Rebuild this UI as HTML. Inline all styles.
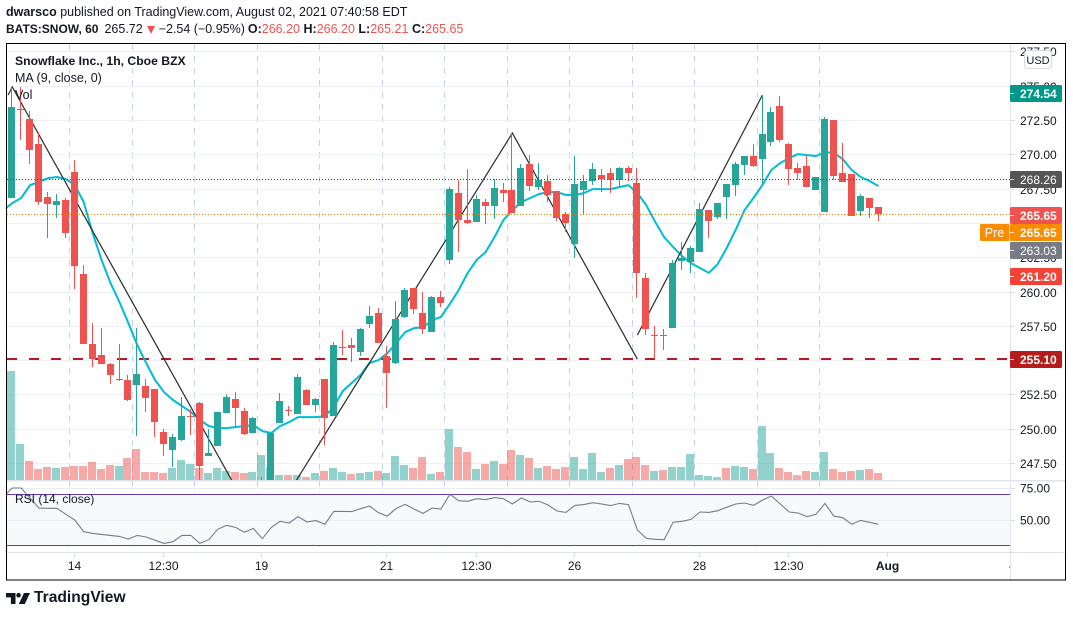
<!DOCTYPE html>
<html lang="en">
<head>
<meta charset="utf-8">
<title>SNOW 1h chart</title>
<style>
html,body{margin:0;padding:0;background:#fff;width:1073px;height:617px;overflow:hidden}
body{position:relative;font-family:"Liberation Sans",sans-serif;color:#131722}
#hdr1,#hdr2{position:absolute;left:6px;white-space:nowrap;font-size:12.5px;line-height:16px}
#hdr1{top:4px}
#hdr2{top:21px}
#hdr2 .r{color:#ef5350}
#hdr2 .sym{font-size:12px;font-weight:bold}
#hdr2 .last{margin-left:6px}
#hdr2 .tri{display:inline-block;width:0;height:0;border-left:4.5px solid transparent;border-right:4.5px solid transparent;border-top:8px solid #ef5350;margin:0 4px;vertical-align:-1px}
#hdr2 .o{margin-left:3px}
#chart{position:absolute;left:0;top:0}
#brand{position:absolute;left:34px;top:589px;font-size:15.6px;font-weight:bold;line-height:18px;color:#131722}
svg text{font-family:"Liberation Sans",sans-serif}
</style>
</head>
<body>
<div id="hdr1"><b>dwarsco</b> published on TradingView.com, August 02, 2021 07:40:58 EDT</div>
<div id="hdr2"><span class="sym">BATS:SNOW, 60</span><span class="last">265.72</span><span class="tri"></span>−2.54 (−0.95%)<b class="o">O:</b><span class="r">266.20</span> <b>H:</b><span class="r">266.20</span> <b>L:</b><span class="r">265.21</span> <b>C:</b><span class="r">265.65</span></div>
<svg id="chart" width="1073" height="617" viewBox="0 0 1073 617" xmlns="http://www.w3.org/2000/svg">
  <defs>
    <clipPath id="mainClip"><rect x="7" y="44" width="1003" height="436"></rect></clipPath>
    <clipPath id="rsiClip"><rect x="7" y="481" width="1003" height="71"></rect></clipPath>
    <clipPath id="timeClip"><rect x="7" y="552" width="1003" height="28"></rect></clipPath>
  </defs>
  <g id="plot" clip-path="url(#mainClip)"></g>
  <g id="rsi" clip-path="url(#rsiClip)"></g>
  <g id="axis"></g>
  <g id="legend">
    <text x="15" y="65" font-size="12.2" font-weight="bold" fill="#131722">Snowflake Inc., 1h, Cboe BZX</text>
    <text x="15" y="82" font-size="12.5" fill="#131722">MA (9, close, 0)</text>
    <text x="15" y="99" font-size="12.5" fill="#131722">Vol</text>
    <text x="15" y="503" font-size="12" fill="#131722">RSI (14, close)</text>
  </g>
  <rect x="6.5" y="43.5" width="1059" height="536.5" fill="none" stroke="#000" stroke-width="1"></rect>
  <g fill="#131722">
    <path d="M6 593h9.5v11h-4.6v-6.6H6z"></path>
    <circle cx="18.6" cy="595.2" r="2.3"></circle>
    <path d="M24 593h6l-5.2 11h-6z"></path>
  </g>
</svg>
<div id="brand">TradingView</div>
<script>
var opens=[266.85,273.33,272.60,270.78,266.92,266.33,266.70,268.74,261.30,256.20,
255.41,254.75,253.65,253.58,253.22,253.15,252.93,249.79,248.48,249.21,
250.95,251.91,248.04,248.77,251.17,252.20,251.32,249.72,245.92,245.56,
250.45,251.39,251.10,252.85,251.76,253.65,250.95,255.99,256.13,255.62,
257.66,258.47,255.33,254.82,258.18,260.29,258.47,257.08,259.64,262.33,
267.21,265.24,265.10,266.55,266.26,267.43,267.43,266.26,269.32,267.65,
268.08,267.36,265.68,263.49,267.43,268.08,268.52,268.67,268.16,269.03,
267.94,261.01,256.86,256.86,257.37,262.26,262.19,262.91,265.97,265.46,
266.92,267.79,269.25,269.91,269.69,270.93,273.55,270.78,269.03,269.18,
267.43,265.83,272.54,268.67,268.60,265.90,266.85,266.20];
var closes=[273.48,273.26,270.35,266.58,266.41,266.63,264.30,261.89,256.20,255.10,
254.75,253.95,253.58,252.13,254.02,252.27,250.53,248.92,249.43,250.95,
250.88,247.31,248.26,251.24,252.34,251.54,249.65,250.81,245.20,249.72,
252.06,251.32,253.80,251.76,252.20,250.81,256.13,255.91,255.91,257.30,
258.25,256.28,254.09,258.03,260.15,258.76,257.30,259.64,259.20,267.50,
265.24,265.02,266.78,266.26,267.57,267.21,265.75,269.03,267.72,268.16,
267.07,265.39,265.02,267.87,268.08,268.96,268.23,268.16,269.03,268.67,
261.38,257.30,256.78,256.78,262.11,262.48,263.21,266.05,265.17,266.48,
267.87,269.32,269.91,269.18,271.51,273.12,271.07,268.96,268.67,267.65,
268.38,272.61,268.45,268.02,265.53,266.99,266.12,265.65];
var highs=[274.87,274.94,273.19,271.66,267.28,267.14,266.85,269.62,261.96,257.73,
257.37,254.82,256.20,253.95,257.37,253.65,252.93,250.01,249.65,252.34,
251.46,251.98,250.01,251.24,252.56,252.70,251.54,250.88,246.52,249.72,
252.64,251.68,254.02,252.93,252.27,253.65,256.35,257.22,256.64,257.37,
258.97,258.83,256.06,259.34,260.29,260.29,260.00,259.71,260.07,267.65,
268.16,268.96,267.07,266.78,268.23,267.94,271.58,269.32,269.98,269.40,
268.52,267.36,265.83,269.91,268.52,269.40,268.96,269.03,269.11,269.18,
269.03,261.38,257.51,257.30,262.33,263.64,263.35,266.48,265.97,266.48,
267.87,269.47,269.91,270.78,274.35,273.48,274.28,270.85,269.40,269.91,
268.38,272.75,272.54,270.85,268.60,267.14,266.85,266.20];
var lows=[266.85,271.07,269.32,266.33,263.93,265.39,263.93,260.21,256.20,254.52,
254.75,253.29,253.51,252.06,249.51,251.26,249.43,248.04,247.24,249.13,
249.57,246.08,248.04,248.77,251.17,250.08,249.57,249.72,244.85,245.30,
250.45,250.95,251.10,251.76,251.24,248.84,250.95,255.41,254.89,255.33,
257.37,256.28,251.54,254.75,258.10,258.40,256.93,257.08,258.91,262.04,
262.91,264.95,265.10,264.95,265.31,266.55,265.75,266.26,267.36,267.43,
266.55,265.17,264.36,262.47,265.60,267.79,267.28,267.21,267.65,268.08,
259.56,256.86,255.10,255.77,257.37,261.60,261.39,262.91,263.93,265.31,
265.31,266.99,268.52,269.11,267.79,270.64,270.93,267.79,268.16,267.65,
267.43,265.83,268.16,268.02,265.53,265.53,265.39,265.21];
var volumes=[1090,360,190,110,130,120,130,140,140,180,
110,150,140,220,310,80,80,70,120,200,
160,120,70,120,90,80,70,80,250,130,
50,50,50,30,70,90,120,80,60,70,
80,90,70,240,150,120,230,60,80,510,
330,280,110,160,190,160,300,250,220,120,
140,110,130,230,110,270,80,120,150,210,
230,150,90,100,130,130,260,50,40,30,
120,140,130,110,540,270,120,80,50,90,
80,280,110,80,90,100,110,70];
var volumeUp=[1,1,0,0,0,1,0,0,0,0,
0,0,1,0,0,0,0,0,1,1,
1,0,1,1,1,0,0,1,1,1,
1,0,1,0,1,0,1,1,0,1,
1,0,1,1,1,0,0,1,0,1,
0,0,1,0,1,0,0,1,0,1,
0,0,0,1,1,1,1,0,1,0,
0,0,1,0,1,1,1,1,1,1,
0,1,1,0,1,1,0,0,0,0,
1,1,0,0,0,1,0,0];
/* first entry of the next two series belongs to the bar just left of the pane */
var maValues=[265.97,266.48,266.85,267.79,268.02,268.30,268.38,268.23,267.79,266.55,264.30,
262.33,260.65,259.27,257.73,256.13,254.82,253.58,252.70,252.13,251.69,
251.25,250.67,250.23,250.08,250.08,250.15,250.23,250.30,249.86,249.72,
250.23,250.52,250.88,250.88,250.88,250.95,251.62,252.78,253.37,253.95,
254.82,255.04,255.55,256.28,257.08,257.37,257.44,257.95,258.18,259.13,
260.15,261.39,262.33,262.91,264.00,265.24,265.97,266.55,266.85,267.14,
267.28,267.28,267.07,267.07,267.21,267.50,267.50,267.50,267.65,267.79,
267.21,266.33,265.10,264.00,263.28,262.62,262.11,261.75,261.39,262.04,
263.21,264.52,265.97,266.85,267.79,268.89,269.40,269.76,270.05,269.98,
269.91,270.20,270.13,269.69,268.89,268.38,268.09,267.72];
var rsiValues=[68.4,75.2,75.2,67.1,59.4,59.2,59.2,54.5,50.0,40.8,39.5,
38.7,37.9,37.1,35.0,37.9,36.6,34.0,31.6,32.9,37.9,
37.9,31.6,34.5,42.7,45.8,44.2,40.3,43.4,35.3,44.2,
49.0,47.6,52.6,48.4,49.5,46.6,56.8,56.8,56.6,58.9,
61.0,55.8,53.1,59.2,62.3,58.7,55.2,59.4,58.7,70.2,
65.2,64.7,66.8,66.0,67.6,66.8,62.6,67.3,64.2,64.7,
61.8,57.1,56.0,61.5,62.1,63.6,62.6,61.3,63.1,62.1,
42.1,35.6,34.8,34.5,48.2,49.0,50.5,56.3,56.0,57.3,
60.0,62.6,63.4,61.5,65.7,68.9,62.6,56.3,55.5,52.6,
54.5,63.1,53.1,51.8,46.6,49.7,48.2,46.6];
var priceTicks=[277.5,275,272.5,270,267.5,265,262.5,260,257.5,255,252.5,250,247.5];
var rsiTicks=[75,50];
var timeLabels=["14","12:30","19","21","12:30","26","28","12:30","Aug","4"];
var timeBars=[7,17,28,42,52,63,77,87,98,112];
var sessionBars=[6.43,13.47,20.43,27.47,34.43,41.47,48.47,55.47,62.47,69.43,76.47,83.43,90.47];
var zigzagBars=[-0.48,0,28,56,70];
var zigzagPrices=[274.35,274.94,242.28,271.58,255.10];
var riseBars=[70,84];
var risePrices=[256.86,274.35];
var badgePrices=[274.54,268.26,265.65,265.65,263.03,261.20,255.10];
var badgeColors=["#009688","#555555","#ef5350","#fb8c00","#787b86","#f44336","#b71c1c"];
var badgeWeights=["bold","normal","bold","bold","normal","bold","bold"];

var NS="http://www.w3.org/2000/svg";
var plot=document.getElementById("plot");
var rsiG=document.getElementById("rsi");
var axisG=document.getElementById("axis");
function mk(tag,parent,attrs){
  var e=document.createElementNS(NS,tag);
  for(var k in attrs){e.setAttribute(k,attrs[k]);}
  parent.appendChild(e);
  return e;
}
function xRaw(i){return 11.88+8.93*i;}
function xPix(i){return Math.floor(xRaw(i));}
function xMid(i){return xPix(i)+0.5;}
function yP(p){return 120.5+(272.5-p)*13.72;}
function yR(v){return 520+(50-v)*1.27;}
function yV(v){return 480-v*109/1090;}
function poly(bars,vals,yf){
  var s=[];
  for(var i=0;i<vals.length;i++){s.push(xRaw(bars(i))+0.4+","+yf(vals[i]).toFixed(1));}
  return s.join(" ");
}

/* session dashes across both panes */
sessionBars.forEach(function(b){
  var px=Math.round(xRaw(b)-0.3)+0.5;
  var a=mk("line",plot,{x1:px,x2:px,y1:44,y2:480,stroke:"#c4d4f3","stroke-width":1,"stroke-dasharray":"6 6"});
  
  
  var b2=mk("line",rsiG,{x1:px,x2:px,y1:481,y2:552,stroke:"#c4d4f3","stroke-width":1,"stroke-dasharray":"6 6"});
  
  
});

/* horizontal grid */
priceTicks.forEach(function(t){
  var y=Math.floor(yP(t))+0.5;
  var g=mk("line",plot,{x1:7,x2:1010,y1:y,y2:y,stroke:"#eef0f6","stroke-width":1});
  
  
});

/* volume */
volumes.forEach(function(v,i){
  var top=Math.round(yV(v));
  var r=mk("rect",plot,{x:xPix(i)-4,y:top,width:8,height:480-top,fill:volumeUp[i]?"rgba(38,166,154,.5)":"rgba(239,83,80,.5)"});
  
  
});

/* red support level */
var supY=Math.round(yP(255.10));
var sup=mk("line",plot,{x1:7,x2:1010,y1:supY,y2:supY,stroke:"#b71c1c","stroke-width":2,"stroke-dasharray":"10 12"});



/* moving average */
var ma=mk("polyline",plot,{points:poly(function(i){return i-1;},maValues,yP),fill:"none",stroke:"#00bcd4","stroke-width":2,"stroke-linejoin":"round"});



/* hand drawn trend lines */
var zz=mk("polyline",plot,{points:poly(function(i){return zigzagBars[i];},zigzagPrices,yP),fill:"none",stroke:"#2a2a2a","stroke-width":1.2});


var rise=mk("polyline",plot,{points:poly(function(i){return riseBars[i];},risePrices,yP),fill:"none",stroke:"#2a2a2a","stroke-width":1.2});



/* candles */
opens.forEach(function(o,i){
  var c=closes[i],h=highs[i],l=lows[i];
  var col=c>=o?"#26a69a":"#ef5350";
  var px=xPix(i);
  var wt=Math.round(yP(h)),wb=Math.round(yP(l));
  var w=mk("rect",plot,{x:px,y:wt,width:1,height:Math.max(1,wb-wt),fill:col,"shape-rendering":"crispEdges"});
  
  
  var bt=Math.round(yP(Math.max(o,c))),bb=Math.round(yP(Math.min(o,c)));
  var b=mk("rect",plot,{x:px-3,y:bt,width:7,height:Math.max(1,bb-bt),fill:col,"shape-rendering":"crispEdges"});
  
  
});

/* dotted price lines */
var pl1=mk("line",plot,{x1:7,x2:1010,y1:Math.round(yP(268.26))+0.5,y2:Math.round(yP(268.26))+0.5,stroke:"#444","stroke-width":1,"stroke-dasharray":"1 2"});


var pl2=mk("line",plot,{x1:7,x2:1010,y1:Math.round(yP(265.65))+0.5,y2:Math.round(yP(265.65))+0.5,stroke:"#f57c00","stroke-width":1,"stroke-dasharray":"1 2"});



/* rsi pane */
var band=mk("rect",rsiG,{x:7,y:yR(70),width:1003,height:yR(30)-yR(70),fill:"#f7fafa"});


rsiTicks.forEach(function(t){
  var y=Math.floor(yR(t))+0.5;
  var g=mk("line",rsiG,{x1:7,x2:1010,y1:y,y2:y,stroke:"#eaedf3","stroke-width":1});
  
  
});
[70,30].forEach(function(t){
  var y=Math.floor(yR(t))+0.5;
  var g=mk("line",rsiG,{x1:7,x2:1010,y1:y,y2:y,stroke:"#673ab7","stroke-width":1});
  
  
});
var rl=mk("polyline",rsiG,{points:poly(function(i){return i-1;},rsiValues,yR),fill:"none",stroke:"#787b86","stroke-width":1.1});



/* axis frame */
var sepV=mk("line",axisG,{x1:1010.5,x2:1010.5,y1:44,y2:580,stroke:"#e0e3eb","stroke-width":1});


var sepR=mk("rect",axisG,{x:7,y:480,width:1058,height:1.5,fill:"#e0e3eb"});


var sepT=mk("rect",axisG,{x:7,y:552,width:1058,height:1,fill:"#e0e3eb"});



/* price tick labels */
priceTicks.forEach(function(t){
  var y=Math.floor(yP(t))+0.5;
  var m=mk("line",axisG,{x1:1011,x2:1015,y1:y,y2:y,stroke:"#d6d9e0","stroke-width":1});
  
  
  var l=mk("text",axisG,{x:1020,y:y+4.5,"font-size":12,fill:"#131722"});
  
  
  l.textContent=t.toFixed(2);
});
rsiTicks.forEach(function(t){
  var y=Math.floor(yR(t))+0.5;
  var m=mk("line",axisG,{x1:1011,x2:1015,y1:y,y2:y,stroke:"#d6d9e0","stroke-width":1});
  
  
  var l=mk("text",axisG,{x:1020,y:y+4,"font-size":12,fill:"#131722"});
  
  
  l.textContent=t.toFixed(2);
});

/* time labels */
var timeG=mk("g",axisG,{"clip-path":"url(#timeClip)"});


timeLabels.forEach(function(t,i){
  var x=xMid(timeBars[i]);
  var m=mk("line",timeG,{x1:x,x2:x,y1:553,y2:557,stroke:"#d6d9e0","stroke-width":1});
  
  
  var l=mk("text",timeG,{x:x,y:570,"font-size":12,"text-anchor":"middle",fill:"#131722","font-weight":t==="Aug"?"bold":"normal"});
  
  
  l.textContent=t;
});

/* value badges */
var badgeTops=[85,171,207,224,242,268,351];
badgePrices.forEach(function(p,i){
  var top=badgeTops[i];
  var r=mk("rect",axisG,{x:1010,y:top,width:52,height:17,rx:1.5,fill:badgeColors[i]});
  
  
  var m=mk("rect",axisG,{x:1010,y:top+8,width:4,height:1,fill:"#fff",opacity:.8});
  
  
  var l=mk("text",axisG,{x:1020,y:top+13,"font-size":12,fill:"#fff","font-weight":badgeWeights[i]});
  
  
  l.textContent=p.toFixed(2);
});
var preBox=mk("rect",axisG,{x:980,y:224,width:29.5,height:17,rx:1.5,fill:"#fb8c00"});


var preText=mk("text",axisG,{x:994.5,y:237,"font-size":12.5,"text-anchor":"middle",fill:"#fff"});


preText.textContent="Pre";

/* currency button */
var usdBox=mk("rect",axisG,{x:1024.5,y:50.5,width:27,height:18,rx:3,fill:"#fff",stroke:"#d6d9e4"});


var usdText=mk("text",axisG,{x:1038,y:64,"font-size":11,"text-anchor":"middle",fill:"#131722"});


usdText.textContent="USD";
</script>
</body>
</html>
